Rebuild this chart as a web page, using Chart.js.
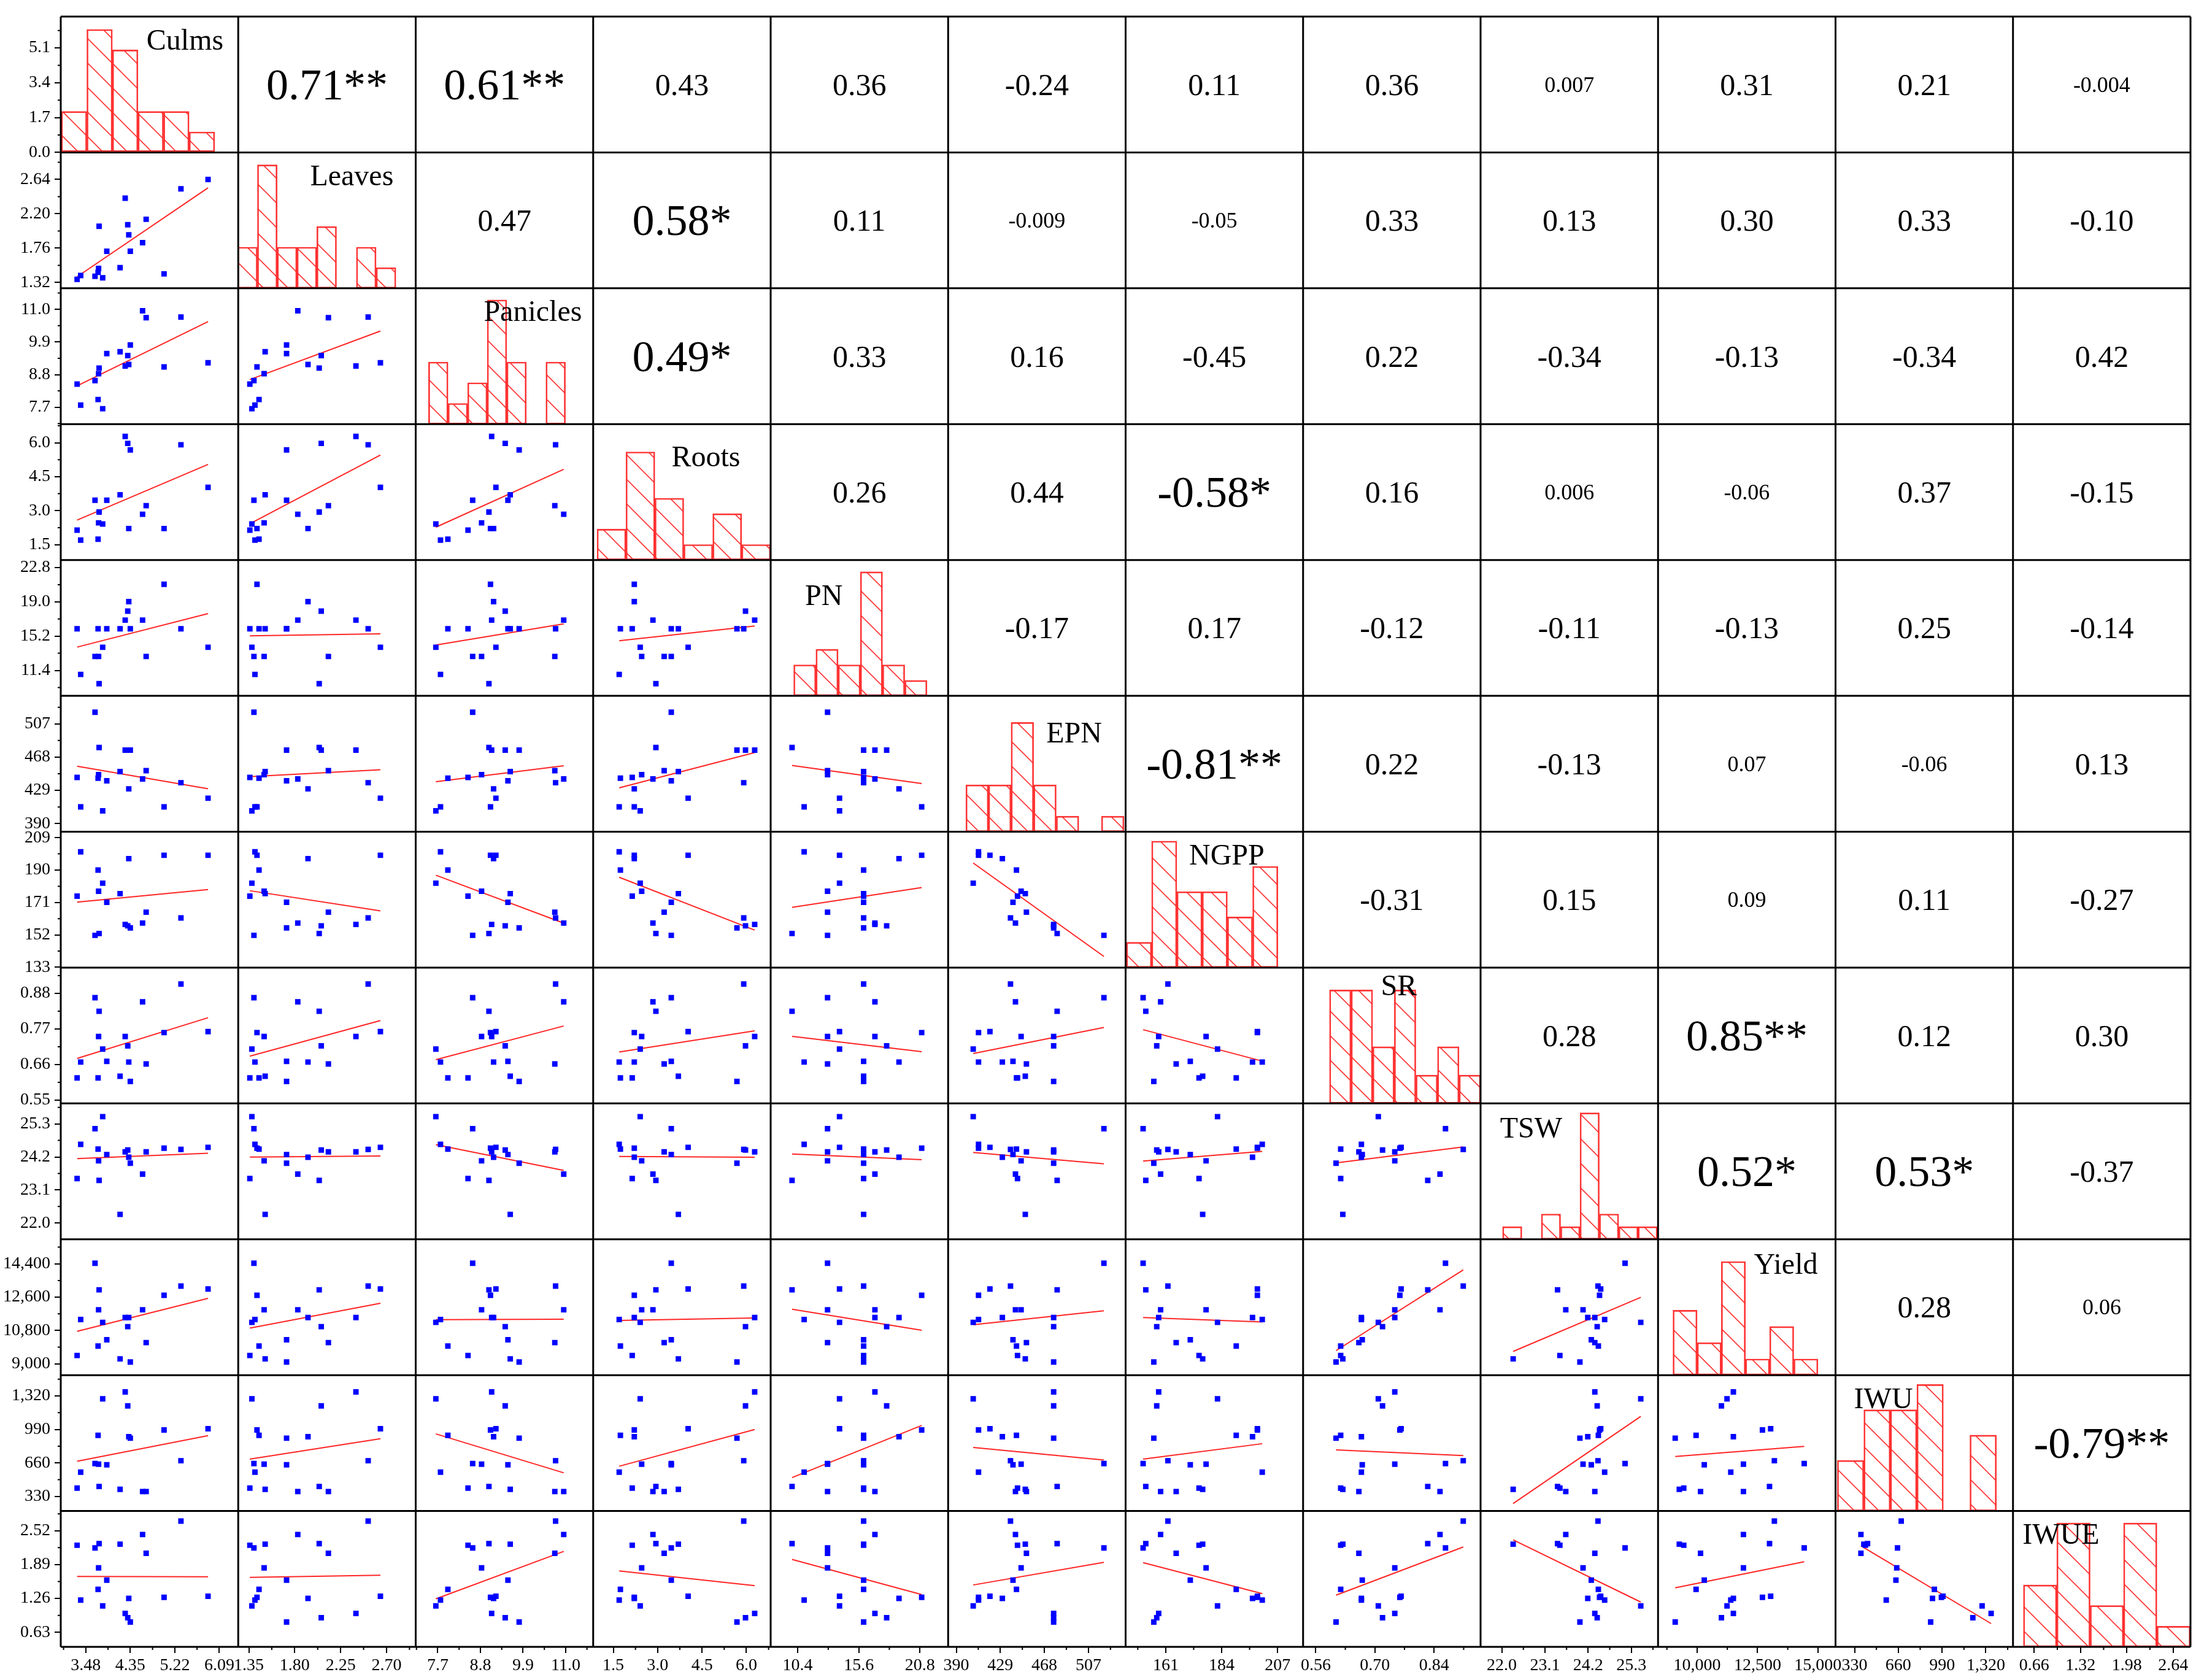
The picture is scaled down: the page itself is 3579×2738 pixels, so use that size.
<!DOCTYPE html>
<html><head><meta charset="utf-8">
<script src="https://cdn.jsdelivr.net/npm/chart.js@4.4.1/dist/chart.umd.min.js"></script>
<style>
html,body{margin:0;padding:0;background:#fff;}
#wrap{position:relative;width:3579px;height:2738px;background:#fff;}
#c{position:absolute;left:0;top:0;width:3579px;height:2738px;}
.lbl{position:absolute;font-family:'Liberation Serif','Times New Roman',serif;color:#000;white-space:nowrap;transform:translate(-50%,-50%);line-height:1;}
</style></head><body>
<div id="wrap"><canvas id="c" width="3579" height="2738"></canvas></div>
<script>
// ---------------- data (18 samples) ----------------
const VARS = ['Culms','Leaves','Panicles','Roots','PN','EPN','NGPP','SR','TSW','Yield','IWU','IWUE'];
const culms    = [3.31,3.38,3.66,3.72,3.73,3.74,3.81,3.89,4.15,4.25,4.30,4.32,4.35,4.59,4.66,5.01,5.34,5.87];
const leaves   = [1.36,1.41,1.40,1.45,1.50,2.04,1.38,1.72,1.51,2.40,2.06,1.93,1.72,1.83,2.13,1.43,2.52,2.64];
const panicles = [8.48,7.77,8.60,7.96,8.83,9.02,7.65,9.51,9.57,9.09,9.44,9.14,9.80,10.95,10.72,9.06,10.74,9.20];
const roots    = [2.14,1.70,3.46,1.74,2.46,2.94,2.41,3.46,3.70,6.28,5.97,2.21,5.68,2.84,3.22,2.21,5.91,4.03];
const pn       = [16.01,10.95,12.94,16.01,12.94,9.92,13.96,16.01,16.01,16.97,17.97,19.02,16.01,16.97,12.94,20.95,16.01,13.96];
const epn      = [444.2,409.7,520.7,443.3,447.4,479.3,405.0,440.2,451.1,476.2,476.2,430.8,476.2,442.4,452.1,409.7,438.0,419.8];
const ngpp     = [174.7,200.7,151.7,190.0,177.6,152.8,182.3,171.1,176.2,158.1,157.3,196.7,156.1,158.9,165.3,198.7,161.9,198.7];
const sr       = [0.619,0.668,0.867,0.619,0.747,0.825,0.708,0.670,0.624,0.747,0.718,0.668,0.608,0.854,0.662,0.759,0.909,0.762];
const tsw      = [23.48,24.62,25.14,24.46,24.07,23.42,25.54,24.28,22.29,24.37,24.43,24.19,23.99,23.63,24.37,24.49,24.45,24.52];
const yieldv   = [9447,11392,14431,9957,11916,12996,11237,10296,9262,11500,11006,11500,9093,11916,10142,12703,13197,13043];
const iwu      = [412,569,654,932,648,428,1292,642,400,1360,1222,918,904,378,378,985,682,997];
const iwue     = [2.25,1.23,2.20,1.43,1.83,2.28,1.12,1.60,2.27,0.98,0.90,1.26,0.82,2.45,2.10,1.28,2.70,1.30];
const SAMPLES = [culms,leaves,panicles,roots,pn,epn,ngpp,sr,tsw,yieldv,iwu,iwue];

// histograms on the diagonal: first bin edge, bin width, counts
const HIST_START = [3.0, 1.24, 7.46, 0.95, 10.06, 398.5, 144.8, 0.5925, 22.02, 9000, 200, 0.506];
const HIST_WIDTH = [0.5, 0.194, 0.505, 0.978, 1.89, 20.0, 10.39, 0.0511, 0.493, 1000, 200, 0.476];
const HIST_COUNTS = [
  [2,6,5,2,2,1],
  [2,6,2,2,3,0,2,1],
  [3,1,2,6,3,0,3],
  [2,7,4,1,3,1],
  [2,3,2,8,2,1],
  [3,3,7,3,1,0,1],
  [1,5,3,3,2,4],
  [4,4,2,4,1,2,1],
  [1,0,2,1,10,2,1,1],
  [4,2,7,1,3,1],
  [2,4,4,5,0,3],
  [3,6,2,6,1]
];
const HIST_MAX = [6.63, 6.6, 6.56, 8.8, 8.76, 8.7, 5.37, 4.79, 10.74, 8.37, 5.37, 6.58];

// axis ranges
const X_MIN = [2.99, 1.246, 7.13, 0.82, 8.1, 382.8, 144.5, 0.53, 21.46, 8383, 186.5, 0.358];
const X_MAX = [6.46, 2.986, 11.71, 6.82, 23.2, 539.9, 217.5, 0.95, 25.98, 15727, 1525, 2.888];
const Y_MIN = [0, 1.246, 7.13, 0.82, 8.57, 380.5, 132.8, 0.54, 21.46, 8383, 186.5, 0.358];
const Y_MAX = [6.63, 2.986, 11.71, 6.82, 23.64, 539.9, 212.5, 0.96, 25.98, 15727, 1525, 2.888];

// tick labels
const X_TICK_LABELS = [
  ['3.48','4.35','5.22','6.09'], ['1.35','1.80','2.25','2.70'], ['7.7','8.8','9.9','11.0'],
  ['1.5','3.0','4.5','6.0'], ['10.4','15.6','20.8'], ['390','429','468','507'],
  ['161','184','207'], ['0.56','0.70','0.84'], ['22.0','23.1','24.2','25.3'],
  ['10,000','12,500','15,000'], ['330','660','990','1,320'], ['0.66','1.32','1.98','2.64']
];
const Y_TICK_LABELS = [
  ['0.0','1.7','3.4','5.1'], ['1.32','1.76','2.20','2.64'], ['7.7','8.8','9.9','11.0'],
  ['1.5','3.0','4.5','6.0'], ['11.4','15.2','19.0','22.8'], ['390','429','468','507'],
  ['133','152','171','190','209'], ['0.55','0.66','0.77','0.88'], ['22.0','23.1','24.2','25.3'],
  ['9,000','10,800','12,600','14,400'], ['330','660','990','1,320'], ['0.63','1.26','1.89','2.52']
];

// correlation coefficients, upper triangle, row by row
const CORR = [
  ['0.71**','0.61**','0.43','0.36','-0.24','0.11','0.36','0.007','0.31','0.21','-0.004'],
  ['0.47','0.58*','0.11','-0.009','-0.05','0.33','0.13','0.30','0.33','-0.10'],
  ['0.49*','0.33','0.16','-0.45','0.22','-0.34','-0.13','-0.34','0.42'],
  ['0.26','0.44','-0.58*','0.16','0.006','-0.06','0.37','-0.15'],
  ['-0.17','0.17','-0.12','-0.11','-0.13','0.25','-0.14'],
  ['-0.81**','0.22','-0.13','0.07','-0.06','0.13'],
  ['-0.31','0.15','0.09','0.11','-0.27'],
  ['0.28','0.85**','0.12','0.30'],
  ['0.52*','0.53*','-0.37'],
  ['0.28','0.06'],
  ['-0.79**']
];

// ---------------- styling / layout ----------------
const FONT = "'Liberation Serif','Times New Roman',serif";
const N = VARS.length;
const NAME_POS = [[0.70,0.17],[0.64,0.17],[0.66,0.17],[0.635,0.24],[0.30,0.26],[0.71,0.27],
                  [0.57,0.17],[0.54,0.13],[0.285,0.18],[0.72,0.18],[0.27,0.17],[0.27,0.17]];
const num = s => parseFloat(s.replace(/,/g,''));

const canvas = document.getElementById('c');
function makeHatch(){
  const s = 40, t = document.createElement('canvas');
  t.width = s; t.height = s;
  const g = t.getContext('2d');
  g.strokeStyle = 'rgba(255,30,30,0.9)'; g.lineWidth = 1.6;
  g.beginPath();
  g.moveTo(-4,-4); g.lineTo(s+4,s+4);
  g.moveTo(-4,s-4); g.lineTo(4,s+4);
  g.moveTo(s-4,-4); g.lineTo(s+4,4);
  g.stroke();
  return canvas.getContext('2d').createPattern(t,'repeat');
}
const hatch = makeHatch();

function fitLine(xs, ys){
  const n = xs.length;
  const mx = xs.reduce((a,b)=>a+b,0)/n, my = ys.reduce((a,b)=>a+b,0)/n;
  let sxy = 0, sxx = 0;
  for (let k=0;k<n;k++){ sxy += (xs[k]-mx)*(ys[k]-my); sxx += (xs[k]-mx)*(xs[k]-mx); }
  const b = sxy/sxx, a = my - b*mx;
  const x0 = Math.min(...xs), x1 = Math.max(...xs);
  return [{x:x0,y:a+b*x0},{x:x1,y:a+b*x1}];
}

// ---------------- datasets ----------------
const pointSets = [], lineSets = [], barSets = [];
for (let i=1;i<N;i++){
  for (let j=0;j<i;j++){
    const xs = SAMPLES[j], ys = SAMPLES[i];
    pointSets.push({
      type:'scatter', xAxisID:'x'+j, yAxisID:'y'+i,
      data: xs.map((v,k)=>({x:v, y:ys[k]})),
      pointStyle:'rect', pointRadius:6.3, pointBackgroundColor:'#0000ff',
      pointBorderColor:'#0000ff', pointBorderWidth:0, showLine:false
    });
    lineSets.push({
      type:'line', xAxisID:'x'+j, yAxisID:'y'+i, data: fitLine(xs, ys),
      borderColor:'rgba(255,0,0,0.85)', borderWidth:2, pointRadius:0, fill:false, tension:0
    });
  }
}
for (let i=0;i<N;i++){
  const data = [];
  HIST_COUNTS[i].forEach((c,b)=>{ if (c>0) data.push({x: HIST_START[i] + HIST_WIDTH[i]*(b+0.5), y:c}); });
  barSets.push({
    type:'bar', xAxisID:'x'+i, yAxisID: i===0 ? 'y0' : 'h'+i, data,
    backgroundColor: hatch, borderColor:'rgba(255,30,30,0.9)', borderWidth:2,
    borderSkipped:false, barPercentage:1, categoryPercentage:1, grouped:false
  });
}

// ---------------- scales ----------------
const scales = {};
for (let j=0;j<N;j++){
  scales['x'+j] = {
    type:'linear', position:'bottom', stack:'cols', stackWeight:1, weight:j,
    min:X_MIN[j], max:X_MAX[j], offset:false,
    grid:{display:true, offset:false, drawOnChartArea:false, drawTicks:true, tickLength:10, tickWidth:2, lineWidth:2, color:'#000', tickColor:'#000'},
    border:{display:false},
    ticks:{autoSkip:false, maxRotation:0, minRotation:0, padding:4, color:'#000',
           font:{family:FONT, size:28}, callback:(v,idx)=>X_TICK_LABELS[j][idx]},
    afterBuildTicks: s => { s.ticks = X_TICK_LABELS[j].map(t=>({value:num(t)})); },
    afterFit: s => { s.height = 54; s.paddingLeft = 0; s.paddingRight = 0; s.paddingTop = 0; s.paddingBottom = 0; }
  };
}
for (let i=0;i<N;i++){
  scales['y'+i] = {
    type:'linear', position:'left', stack:'rows', stackWeight:1, weight:100-i,
    min:Y_MIN[i], max:Y_MAX[i],
    grid:{display:true, drawOnChartArea:false, drawTicks:true, tickLength:10, tickWidth:2, lineWidth:2, color:'#000', tickColor:'#000'},
    border:{display:false},
    ticks:{autoSkip:false, padding:7, color:'#000', font:{family:FONT, size:28},
           callback:(v,idx)=>Y_TICK_LABELS[i][idx]},
    afterBuildTicks: s => { s.ticks = Y_TICK_LABELS[i].map(t=>({value:num(t)})); },
    afterFit: s => { s.width = 99; s.paddingLeft = 0; s.paddingRight = 0; s.paddingTop = 0; s.paddingBottom = 0; }
  };
  scales['h'+i] = {
    type:'linear', position:'right', stack:'hist', stackWeight:1, weight:i,
    display:false, min:0, max:HIST_MAX[i]
  };
}

// ---------------- panel frames & minor ticks ----------------
function minorValues(labels, min, max){
  const t = labels.map(num), step = t[1]-t[0], out = [];
  for (let k=-1;k<=t.length;k++){
    const v = t[0] + step*(k+0.5);
    if (v>=min && v<=max) out.push(v);
  }
  return out;
}
const framePlugin = {
  id:'frames',
  afterDraw(chart){
    const ctx = chart.ctx, ca = chart.chartArea;
    ctx.save();
    ctx.strokeStyle = '#000'; ctx.lineWidth = 2;
    ctx.beginPath();
    for (let j=0;j<N;j++){
      const s = chart.scales['x'+j];
      minorValues(X_TICK_LABELS[j], X_MIN[j], X_MAX[j]).forEach(v=>{
        const p = s.getPixelForValue(v); ctx.moveTo(p, ca.bottom); ctx.lineTo(p, ca.bottom+5);
      });
    }
    for (let i=0;i<N;i++){
      const s = chart.scales['y'+i];
      minorValues(Y_TICK_LABELS[i], Y_MIN[i], Y_MAX[i]).forEach(v=>{
        const p = s.getPixelForValue(v); ctx.moveTo(ca.left-5, p); ctx.lineTo(ca.left, p);
      });
    }
    ctx.stroke();
    ctx.lineWidth = 3;
    ctx.beginPath();
    for (let j=0;j<N;j++){
      const s = chart.scales['x'+j];
      ctx.moveTo(s.left, ca.top); ctx.lineTo(s.left, ca.bottom);
      if (j===N-1){ ctx.moveTo(s.right, ca.top); ctx.lineTo(s.right, ca.bottom); }
    }
    for (let i=0;i<N;i++){
      const s = chart.scales['y'+i];
      ctx.moveTo(ca.left, s.top); ctx.lineTo(ca.right, s.top);
      if (i===N-1){ ctx.moveTo(ca.left, s.bottom); ctx.lineTo(ca.right, s.bottom); }
    }
    ctx.stroke();
    ctx.restore();
  }
};

const chart = new Chart(canvas, {
  type:'scatter',
  data:{datasets:[...pointSets, ...lineSets, ...barSets]},
  options:{
    responsive:false, devicePixelRatio:1, animation:false, events:[],
    layout:{padding:{top:27, right:9, bottom:0, left:0}},
    plugins:{legend:{display:false}, tooltip:{enabled:false}},
    scales
  },
  plugins:[framePlugin]
});

// ---------------- text overlays (correlations and variable names) ----------------
const wrap = document.getElementById('wrap');
function addText(txt, cx, cy, size){
  const d = document.createElement('div');
  d.className = 'lbl'; d.textContent = txt;
  d.style.left = cx+'px'; d.style.top = cy+'px'; d.style.fontSize = size+'px';
  wrap.appendChild(d);
}
for (let i=0;i<N;i++){
  const ys = chart.scales['y'+i];
  for (let j=i+1;j<N;j++){
    const xs = chart.scales['x'+j];
    const txt = CORR[i][j-i-1];
    const v = Math.abs(num(txt.replace(/\*/g,'')));
    const size = txt.includes('*') ? 72 : (v < 0.1 ? 36 : 50);
    addText(txt, (xs.left+xs.right)/2, (ys.top+ys.bottom)/2, size);
  }
  const xs = chart.scales['x'+i];
  addText(VARS[i], xs.left + NAME_POS[i][0]*(xs.right-xs.left), ys.top + NAME_POS[i][1]*(ys.bottom-ys.top), 48);
}
</script>
</body></html>
